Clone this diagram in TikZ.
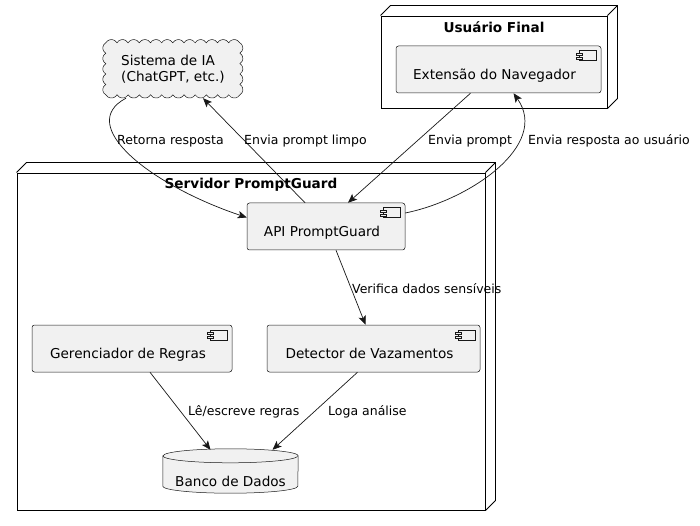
\documentclass[tikz,border=0pt]{standalone}
\usepackage{fontspec}
\setmainfont{DejaVu Sans}
\usepackage{xcolor}
\usepackage{tikz}
\usetikzlibrary{arrows.meta,positioning,calc}
\definecolor{pgfill}{HTML}{F1F1F1}
\definecolor{pgline}{HTML}{181818}
\pgfdeclarelayer{base}
\pgfdeclarelayer{back}
\pgfsetlayers{base,back,main}

% 3D edges of a deployment node
\newcommand{\nodedepth}[1]{%
  \draw[line width=0.9pt] (#1.north west) -- ++(10,10) -- ($(#1.north east)+(10,10)$) -- ($(#1.south east)+(10,10)$) -- (#1.south east);
  \draw[line width=0.9pt] (#1.north east) -- ++(10,10);
}
% small component icon, upper right corner
\newcommand{\compicon}[1]{%
  \draw[icon] ($(#1.north east)+(-22,-5)$) rectangle ++(17,-10);
  \draw[icon] ($(#1.north east)+(-25,-7.5)$) rectangle ++(6,-2);
  \draw[icon] ($(#1.north east)+(-25,-11.5)$) rectangle ++(6,-2);
}

\begin{document}
\begin{tikzpicture}[
  x=1pt,y=1pt,
  font=\fontsize{13.6}{16.5}\selectfont,
  depnode/.style={draw=black,line width=0.9pt,fill=white,inner sep=0pt},
  nodetitle/.style={anchor=center,yshift=-12pt,font=\fontsize{13.6}{16.5}\selectfont\bfseries},
  compbox/.style={draw=pgline,fill=pgfill,rounded corners=2.5pt,line width=0.5pt,inner sep=0pt,
    minimum height=47pt,text height=20pt,text depth=0.5pt,execute at end node={\hspace*{8pt}}},
  icon/.style={draw=pgline,line width=0.5pt,fill=pgfill},
  cloudbox/.style={align=left,inner sep=0pt,minimum width=134pt,minimum height=52pt},
  shapeline/.style={draw=pgline,fill=pgfill,line width=0.5pt},
  dbbox/.style={inner sep=0pt,minimum width=135pt,minimum height=44pt,text height=30.5pt,text depth=0.5pt},
  conn/.style={draw=pgline,line width=0.7pt,-{Stealth[length=9pt,width=7.5pt,inset=2pt]}},
  elabel/.style={font=\fontsize{12.5}{15}\selectfont,anchor=base west,inner sep=0pt},
]
\useasboundingbox (0,0) rectangle (700,-526);

% deployment nodes
\begin{pgfonlayer}{base}
  \node[depnode,minimum width=468pt,minimum height=337pt,
    label={[nodetitle]north:Servidor PromptGuard}] (servidor) at (251,-341.5) {};
  \nodedepth{servidor}
  \node[depnode,minimum width=226pt,minimum height=92pt,
    label={[nodetitle]north:Usuário Final}] (usuario) at (494,-62) {};
  \nodedepth{usuario}
\end{pgfonlayer}

\node[cloudbox] (ia) at (173,-69) {Sistema de IA\\(ChatGPT, etc.)};
\node[compbox,minimum width=205pt] (ext) at (498.5,-69.5) {Extensão do Navegador};
\node[compbox,minimum width=158pt] (api) at (326,-226.5) {API PromptGuard};
\node[compbox,minimum width=200pt] (ger) at (132,-348.5) {Gerenciador de Regras};
\node[compbox,minimum width=213pt] (det) at (373.5,-348.5) {Detector de Vazamentos};
\node[dbbox] (banco) at (230.5,-471) {Banco de Dados};
\compicon{ext}
\compicon{api}
\compicon{ger}
\compicon{det}

\begin{pgfonlayer}{back}
  % cloud outline
  \path[shapeline] (ia.north west)
    foreach \i in {1,...,12} {arc[start angle=150,end angle=30,radius=6.45]}
    foreach \i in {1,...,5} {arc[start angle=60,end angle=-60,radius=6.005]}
    foreach \i in {1,...,12} {arc[start angle=-30,end angle=-150,radius=6.45]}
    foreach \i in {1,...,5} {arc[start angle=240,end angle=120,radius=6.005]} -- cycle;
  % database cylinder
  \path[shapeline] ($(banco.north west)+(0,-7)$) -- ($(banco.south west)+(0,7)$)
    arc[start angle=180,end angle=360,x radius=67.5,y radius=7]
    -- ($(banco.north east)+(0,-7)$)
    arc[start angle=0,end angle=180,x radius=67.5,y radius=7] -- cycle;
  \draw[pgline,line width=0.5pt] ($(banco.north west)+(0,-7)$)
    arc[start angle=180,end angle=360,x radius=67.5,y radius=7];
\end{pgfonlayer}

% connectors
\draw[conn] ($(ia.south)+(-47,-3)$) .. controls (75,-125) and (150,-185) .. ($(api.west)+(0,9)$);
\draw[conn] ($(api.north)+(-21,0)$) -- ($(ia.south)+(30,-3)$);
\draw[conn] ($(ext.south)+(-28,0)$) -- ($(api.north)+(22,0)$);
\draw[conn] ($(api.east)+(0,13.5)$) .. controls (470,-200) and (550,-145) .. ($(ext.south)+(15,0)$);
\draw[conn] ($(api.south)+(10,0)$) -- ($(det.north)+(-8,0)$);
\draw[conn] ($(ger.south)+(18,0)$) -- ($(banco.north)+(-20,-1)$);
\draw[conn] ($(det.south)+(-16,0)$) -- ($(banco.north)+(42,-1)$);

% connector labels
\node[elabel] (lretorna) at (117,-145) {Retorna resposta};
\node[elabel] (llimpo) at (244,-145) {Envia prompt limpo};
\node[elabel] (lprompt) at (428,-145) {Envia prompt};
\node[elabel] (lresposta) at (528,-145) {Envia resposta ao usuário};
\node[elabel] (lverifica) at (352,-293) {Verifica dados sensíveis};
\node[elabel] (lregras) at (188,-415) {Lê/escreve regras};
\node[elabel] (lloga) at (328,-415) {Loga análise};
\end{tikzpicture}
\end{document}
